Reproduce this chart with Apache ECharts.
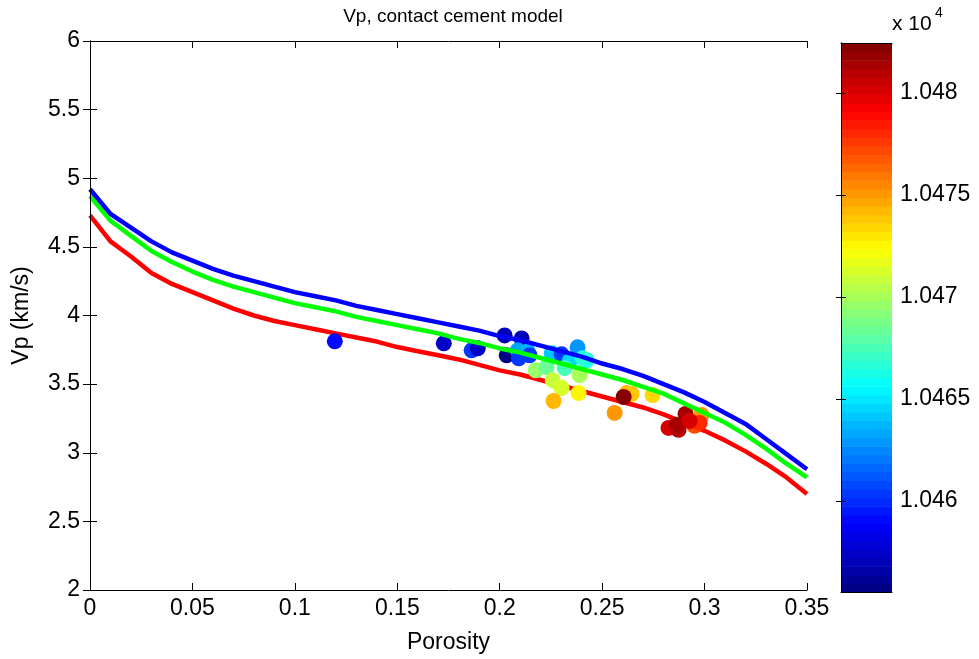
<!DOCTYPE html>
<html>
<head>
<meta charset="utf-8">
<script src="https://cdn.jsdelivr.net/npm/echarts@6/dist/echarts.min.js"></script>
<style>
html,body{margin:0;padding:0;background:#fff;}
#chart{width:979px;height:659px;}
</style>
</head>
<body>
<div id="chart"></div>
<script>
// ---- model curves (porosity grid and Vp for three cement models) ----
var phiGrid = [0,0.01,0.02,0.03,0.04,0.05,0.06,0.07,0.08,0.09,0.10,0.11,0.12,0.13,0.14,0.15,0.16,0.17,0.18,0.19,0.20,0.21,0.22,0.23,0.24,0.25,0.26,0.27,0.28,0.29,0.30,0.31,0.32,0.33,0.34,0.35];
var vpBlue  = [4.92,4.74,4.64,4.54,4.46,4.40,4.34,4.29,4.25,4.21,4.17,4.14,4.11,4.07,4.04,4.01,3.98,3.95,3.92,3.89,3.85,3.82,3.78,3.74,3.70,3.65,3.61,3.56,3.50,3.44,3.37,3.29,3.21,3.10,2.99,2.88];
var vpGreen = [4.87,4.69,4.58,4.47,4.39,4.32,4.26,4.21,4.17,4.13,4.09,4.06,4.03,3.99,3.96,3.93,3.90,3.87,3.83,3.80,3.76,3.73,3.69,3.65,3.61,3.57,3.53,3.48,3.43,3.36,3.29,3.22,3.13,3.03,2.92,2.82];
var vpRed   = [4.73,4.54,4.43,4.31,4.23,4.17,4.11,4.05,4.00,3.96,3.93,3.90,3.87,3.84,3.81,3.77,3.74,3.71,3.68,3.64,3.60,3.57,3.53,3.49,3.45,3.41,3.37,3.33,3.28,3.22,3.16,3.09,3.01,2.92,2.82,2.70];

// ---- measured points ----
var ptPhi = [0.1195,0.1727,0.1863,0.1893,0.2024,0.2107,0.2034,0.2088,0.2137,0.2093,0.2146,0.2176,0.2229,0.2254,0.2302,0.2341,0.2380,0.2424,0.2405,0.2317,0.2390,0.2259,0.2302,0.2385,0.2263,0.2561,0.2620,0.2644,0.2605,0.2746,0.2824,0.2873,0.2863,0.2907,0.2985,0.2951,0.2976,0.2927];
var ptVp  = [3.812,3.797,3.746,3.761,3.855,3.833,3.710,3.746,3.739,3.688,3.710,3.601,3.623,3.725,3.717,3.667,3.768,3.674,3.688,3.616,3.565,3.529,3.471,3.435,3.377,3.290,3.435,3.428,3.406,3.420,3.181,3.167,3.203,3.283,3.275,3.196,3.217,3.232];
var ptC   = [1.04593,1.04575,1.04602,1.04574,1.04569,1.04572,1.04557,1.04634,1.04639,1.04602,1.04602,1.04698,1.04682,1.04641,1.04605,1.04647,1.04627,1.04663,1.04668,1.04674,1.04702,1.04710,1.04714,1.04724,1.04744,1.04749,1.04744,1.04738,1.04822,1.04732,1.04803,1.04808,1.04812,1.04816,1.04749,1.04771,1.04779,1.04800];

// ---- colour bar ----
var cMin = 1.045554, cMax = 1.048245;
var cbTicks = [1.046, 1.0465, 1.047, 1.0475, 1.048];
var nLevels = 64;

function jet(t){
  function cl(x){return Math.max(0,Math.min(1,x));}
  var r = cl(Math.min(4*t-1.5, -4*t+4.5));
  var g = cl(Math.min(4*t-0.5, -4*t+3.5));
  var b = cl(Math.min(4*t+0.5, -4*t+2.5));
  return 'rgb(' + Math.round(r*255) + ',' + Math.round(g*255) + ',' + Math.round(b*255) + ')';
}
function levelColor(i){ return jet((i+0.5)/nLevels); }
function valueColor(c){
  var i = Math.floor((c - cMin)/(cMax - cMin)*nLevels);
  i = Math.max(0, Math.min(nLevels-1, i));
  return levelColor(i);
}

var FONT = "'Liberation Sans', Arial, Helvetica, sans-serif";
var FS = 23;
var lines = function(arr){ return phiGrid.map(function(p,i){return [p, arr[i]];}); };
var pts = ptPhi.map(function(p,i){ return {value:[p, ptVp[i], ptC[i]], itemStyle:{color: valueColor(ptC[i]), opacity:1}}; });
var levels = []; for (var k=0;k<nLevels;k++) levels.push([k]);

var tickStyle = {show:true, inside:true, length:7, lineStyle:{color:'#000', width:1}};
var axisLineStyle = {show:true, lineStyle:{color:'#000', width:1}};
var lblStyle = {color:'#000', fontSize:FS, fontFamily:FONT};

var chart = echarts.init(document.getElementById('chart'), null, {renderer:'canvas'});
chart.setOption({
  animation:false,
  backgroundColor:'#fff',
  title:{text:'Vp, contact cement model', left:448, top:2, textAlign:'center',
    textStyle:{fontSize:19, fontWeight:'normal', color:'#000', fontFamily:FONT}},
  grid:[
    {left:90, top:41, width:717, height:552, containLabel:false},
    {left:841, top:43, width:51, height:549, containLabel:false}
  ],
  xAxis:[
    {gridIndex:0, type:'value', min:0, max:0.35, interval:0.05, position:'bottom', z:10,
      axisLine:axisLineStyle, axisTick:tickStyle, splitLine:{show:false},
      axisLabel:Object.assign({margin:7}, lblStyle),
      name:'Porosity', nameLocation:'middle', nameGap:41,
      nameTextStyle:{fontSize:FS, color:'#000', fontFamily:FONT}},
    {gridIndex:0, type:'value', min:0, max:0.35, interval:0.05, position:'top', z:10,
      axisLine:axisLineStyle, axisTick:tickStyle, splitLine:{show:false}, axisLabel:{show:false}},
    {gridIndex:1, type:'value', min:0, max:1, position:'bottom', z:10,
      axisLine:axisLineStyle, axisTick:{show:false}, splitLine:{show:false}, axisLabel:{show:false}},
    {gridIndex:1, type:'value', min:0, max:1, position:'top', z:10,
      axisLine:axisLineStyle, axisTick:{show:false}, splitLine:{show:false}, axisLabel:{show:false}}
  ],
  yAxis:[
    {gridIndex:0, type:'value', min:2, max:6, interval:0.5, position:'left', z:10,
      axisLine:axisLineStyle, axisTick:tickStyle, splitLine:{show:false},
      axisLabel:Object.assign({margin:10}, lblStyle),
      name:'Vp (km/s)', nameLocation:'middle', nameGap:57,
      nameTextStyle:{fontSize:FS, color:'#000', fontFamily:FONT}},
    {gridIndex:0, type:'value', min:2, max:6, interval:0.5, position:'right', z:10,
      axisLine:axisLineStyle, axisTick:tickStyle, splitLine:{show:false}, axisLabel:{show:false}},
    {gridIndex:1, type:'value', min:cMin, max:cMax, position:'left', z:10,
      axisLine:axisLineStyle, splitLine:{show:false}, axisLabel:{show:false},
      axisTick:{show:true, inside:true, length:5, customValues:cbTicks, lineStyle:{color:'#000'}}},
    {gridIndex:1, type:'value', min:cMin, max:cMax, position:'right', z:10,
      axisLine:axisLineStyle, splitLine:{show:false},
      axisTick:{show:true, inside:true, length:5, customValues:cbTicks, lineStyle:{color:'#000'}},
      axisLabel:Object.assign({margin:8, customValues:cbTicks, showMinLabel:true, showMaxLabel:true,
        formatter:function(v){return String(+(+v).toFixed(4));}}, lblStyle)}
  ],
  series:[
    {type:'line', xAxisIndex:0, yAxisIndex:0, data:lines(vpRed), showSymbol:false, symbol:'none',
      lineStyle:{color:'#ff0000', width:4.5}, z:2},
    {type:'scatter', xAxisIndex:0, yAxisIndex:0, data:pts, symbol:'circle', symbolSize:16, z:3,
      itemStyle:{opacity:1}},
    {type:'line', xAxisIndex:0, yAxisIndex:0, data:lines(vpGreen), showSymbol:false, symbol:'none',
      lineStyle:{color:'#00ff00', width:4.5}, z:4},
    {type:'line', xAxisIndex:0, yAxisIndex:0, data:lines(vpBlue), showSymbol:false, symbol:'none',
      lineStyle:{color:'#0000ff', width:4.5}, z:5},
    {type:'custom', xAxisIndex:2, yAxisIndex:2, data:levels, z:2,
      renderItem:function(params, api){
        var i = api.value(0);
        var step = (cMax - cMin)/nLevels;
        var p0 = api.coord([0, cMin + i*step]);
        var p1 = api.coord([1, cMin + (i+1)*step]);
        return {type:'rect', shape:{x:p0[0], y:p1[1], width:p1[0]-p0[0], height:p0[1]-p1[1]+0.6},
          style:{fill:levelColor(i)}};
      }}
  ],
  graphic:[
    {type:'text', left:892, top:14, style:{text:'x 10', fontSize:21, fill:'#000', fontFamily:FONT}},
    {type:'text', left:935, top:6, style:{text:'4', fontSize:14, fill:'#000', fontFamily:FONT}}
  ]
});
</script>
</body>
</html>
